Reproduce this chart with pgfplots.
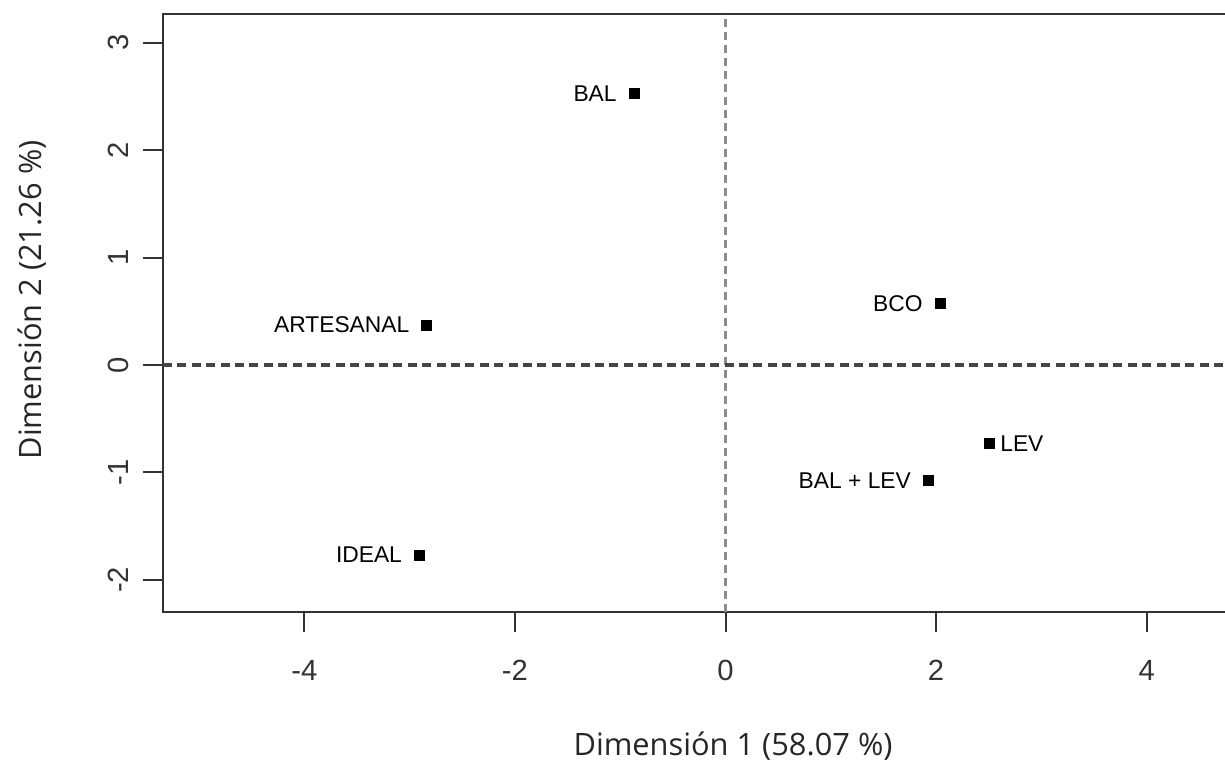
\documentclass[border=0pt]{standalone}
\usepackage{pgfplots}
\pgfplotsset{compat=1.18}
\usepackage{pgfplotstable}
\usepackage{fontspec}
\setmainfont{Liberation Sans}
\newfontfamily\titlefont{Open Sans}
\definecolor{boxgray}{HTML}{333333}
\definecolor{hdash}{HTML}{454545}
\definecolor{vdash}{HTML}{8C8C8C}
\definecolor{titlegray}{HTML}{262626}

\pgfplotstableread{
x      y      label
-0.869  2.530 BAL
-2.838  0.372 ARTESANAL
-2.908 -1.769 IDEAL
 2.037  0.574 BCO
 1.926 -1.077 {BAL + LEV}
}\ptsleft
\pgfplotstableread{
x      y      label
 2.502 -0.729 LEV
}\ptsright

\begin{document}
\begin{tikzpicture}
\useasboundingbox (0,0) rectangle (612.5bp,380bp);
\begin{axis}[
  at={(81.5bp,74bp)}, anchor=south west,
  scale only axis, width=562.5bp, height=299bp,
  xmin=-5.342, xmax=5.342, ymin=-2.30, ymax=3.268,
  xtick={-4,-2,0,2,4}, ytick={-2,-1,0,1,2,3},
  xtick pos=left, ytick pos=left,
  tick align=outside, major tick length=10bp,
  axis line style={boxgray, line width=1bp},
  every tick/.style={boxgray, line width=1bp},
  /pgf/number format/assume math mode=true,
  ticklabel style={font=\fontsize{14.6bp}{17bp}\selectfont, text=boxgray, inner sep=0pt},
  xticklabel style={anchor=north},
  yticklabel style={rotate=90, anchor=south},
  xticklabel shift=14bp, yticklabel shift=7bp,
  clip=false,
]
\addplot[vdash, line width=1.1bp, dash pattern=on 4bp off 2.5bp] coordinates {(0,-2.30) (0,3.268)};
\addplot[hdash, line width=1.6bp, dash pattern=on 4.5bp off 2.7bp] coordinates {(-5.342,0) (5.342,0)};
\addplot[only marks, mark=square*, mark size=2.5bp, black,
  nodes near coords, point meta=explicit symbolic,
  every node near coord/.style={anchor=east, xshift=-8.5bp, inner sep=0pt,
    font=\fontsize{11.4bp}{13bp}\selectfont, text=black}]
  table[x=x, y=y, meta=label]{\ptsleft};
\addplot[only marks, mark=square*, mark size=2.5bp, black,
  nodes near coords, point meta=explicit symbolic,
  every node near coord/.style={anchor=west, xshift=5.5bp, inner sep=0pt,
    font=\fontsize{11.4bp}{13bp}\selectfont, text=black}]
  table[x=x, y=y, meta=label]{\ptsright};
\end{axis}
\node[rotate=90, anchor=base, inner sep=0pt, text=titlegray,
  font=\titlefont\fontsize{15.4bp}{18bp}\selectfont] at (20.5bp,230bp) {Dimensión 2 (21.26 \%)};
\node[anchor=base, inner sep=0pt, text=titlegray,
  font=\titlefont\fontsize{15.4bp}{18bp}\selectfont] at (366.5bp,2.5bp) {Dimensión 1 (58.07 \%)};
\end{tikzpicture}
\end{document}
